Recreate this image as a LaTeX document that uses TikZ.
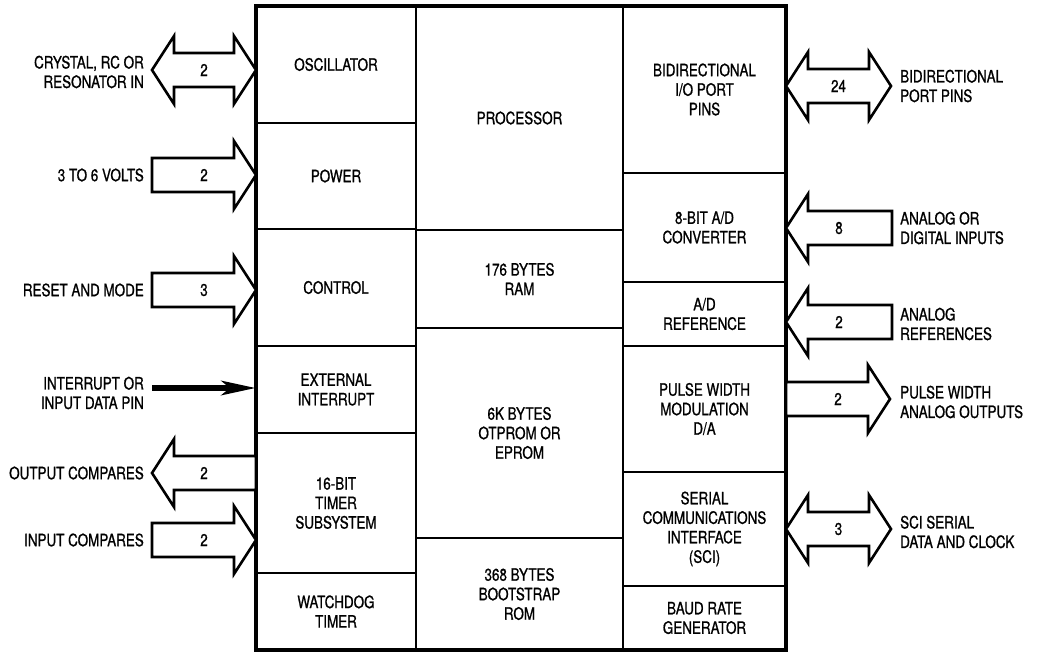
\documentclass[tikz,border=0pt]{standalone}
\usepackage{fontspec}
\setmainfont{TeX Gyre Heros}[FakeStretch=0.79, FakeBold=0.9]
\usetikzlibrary{calc,arrows.meta}

\tikzset{
    txt/.style={font=\fontsize{17}{19.5}\selectfont},
    blk/.style={txt, draw, fill=white, line width=2.6pt, inner sep=0pt, outer sep=0pt, align=center},
    lbl/.style={txt, inner sep=0pt},
    num/.style={txt, inner sep=1pt},
    blockarrow/.style={draw, fill=white, line width=2.6pt, line join=miter},
}

\newcommand{\shafthw}{17pt}
\newcommand{\headhw}{34pt}
\newcommand{\headlen}{22pt}

% block from corner (#2,#3) to corner (#4,#5)
\newcommand{\blk}[6]{%
    \node[blk, minimum width={#4-#2}, minimum height={#5-#3}] (#1) at ({(#2+#4)/2},{(#3+#5)/2}) {#6};}

% one-headed hollow arrow from #2 to #3
\newcommand{\onearrow}[4]{%
    \draw[blockarrow] let \p1=(#2), \p2=(#3), \n1={sign(\x2-\x1)} in
        (\x1,{\y1+\shafthw}) -- ({\x2-\n1*\headlen},{\y1+\shafthw}) -- ({\x2-\n1*\headlen},{\y1+\headhw})
        -- (\x2,\y1) -- ({\x2-\n1*\headlen},{\y1-\headhw}) -- ({\x2-\n1*\headlen},{\y1-\shafthw})
        -- (\x1,{\y1-\shafthw}) -- cycle;
    \node[num] (#1) at ($(#2)!0.5!(#3)$) {#4};}

% two-headed hollow arrow between #2 and #3
\newcommand{\twoarrow}[4]{%
    \draw[blockarrow] let \p1=(#2), \p2=(#3), \n1={sign(\x2-\x1)} in
        (\x1,\y1) -- ({\x1+\n1*\headlen},{\y1+\headhw}) -- ({\x1+\n1*\headlen},{\y1+\shafthw})
        -- ({\x2-\n1*\headlen},{\y1+\shafthw}) -- ({\x2-\n1*\headlen},{\y1+\headhw})
        -- (\x2,\y1) -- ({\x2-\n1*\headlen},{\y1-\headhw}) -- ({\x2-\n1*\headlen},{\y1-\shafthw})
        -- ({\x1+\n1*\headlen},{\y1-\shafthw}) -- ({\x1+\n1*\headlen},{\y1-\headhw}) -- cycle;
    \node[num] (#1) at ($(#2)!0.5!(#3)$) {#4};}

\begin{document}
\begin{tikzpicture}[x=1pt, y=-1pt]
    \useasboundingbox[fill=white] (0,0) rectangle (1038,653);

    % Free ends
    \coordinate (xtal)   at (152,70);
    \coordinate (volts)  at (152,175);
    \coordinate (reset)  at (152,290);
    \coordinate (intin)  at (152,388);
    \coordinate (outc)   at (152,473);
    \coordinate (inc)    at (152,540);
    \coordinate (bpins)  at (891,86);
    \coordinate (ain)    at (892,228);
    \coordinate (aref)   at (892,322);
    \coordinate (pwmout) at (890,399);
    \coordinate (sciio)  at (891,529);

    % Blocks
    \blk{osc}{256}{6}{416}{123}{OSCILLATOR}
    \blk{pwr}{256}{123}{416}{229}{POWER}
    \blk{ctrl}{256}{229}{416}{346}{CONTROL}
    \blk{extint}{256}{346}{416}{433}{EXTERNAL\\INTERRUPT}
    \blk{timer}{256}{433}{416}{573}{16-BIT\\TIMER\\SUBSYSTEM}
    \blk{wdog}{256}{573}{416}{650}{WATCHDOG\\TIMER}

    \blk{proc}{416}{6}{623}{230}{PROCESSOR}
    \blk{ram}{416}{230}{623}{328}{176 BYTES\\RAM}
    \blk{eprom}{416}{328}{623}{538}{6K BYTES\\OTPROM OR\\EPROM}
    \blk{boot}{416}{538}{623}{650}{368 BYTES\\BOOTSTRAP\\ROM}

    \blk{bidir}{623}{6}{786}{173}{BIDIRECTIONAL\\I/O PORT\\PINS}
    \blk{adc}{623}{173}{786}{282}{8-BIT A/D\\CONVERTER}
    \blk{adref}{623}{282}{786}{346}{A/D\\REFERENCE}
    \blk{pwm}{623}{346}{786}{472}{PULSE WIDTH\\MODULATION\\D/A}
    \blk{sci}{623}{472}{786}{586}{SERIAL\\COMMUNICATIONS\\INTERFACE\\(SCI)}
    \blk{baud}{623}{586}{786}{650}{BAUD RATE\\GENERATOR}

    \draw[line width=3.4pt] (osc.north west) rectangle (baud.south east);

    % Left side
    \twoarrow{xtaln}{xtal}{osc.west |- xtal}{2}
    \onearrow{voltsn}{volts}{pwr.west |- volts}{2}
    \onearrow{resetn}{reset}{ctrl.west |- reset}{3}
    \draw[line width=6pt, -{Stealth[length=34pt, width=14pt, inset=8pt]}] (intin) -- (extint.west |- intin);
    \onearrow{outcn}{timer.west |- outc}{outc}{2}
    \onearrow{incn}{inc}{timer.west |- inc}{2}

    \node[lbl, anchor=east, align=right] (xtallbl) at ([xshift=-8pt,yshift=-2pt]xtal) {CRYSTAL, RC OR\\RESONATOR IN};
    \node[lbl, anchor=east] (voltslbl) at ([xshift=-8pt]volts) {3 TO 6 VOLTS};
    \node[lbl, anchor=east] (resetlbl) at ([xshift=-8pt]reset) {RESET AND MODE};
    \node[lbl, anchor=east, align=right] (intlbl) at ([xshift=-8pt,yshift=-5pt]intin) {INTERRUPT OR\\INPUT DATA PIN};
    \node[lbl, anchor=east] (outclbl) at ([xshift=-8pt]outc) {OUTPUT COMPARES};
    \node[lbl, anchor=east] (inclbl) at ([xshift=-8pt]inc) {INPUT COMPARES};

    % Right side
    \twoarrow{bpinsn}{bidir.east |- bpins}{bpins}{24}
    \onearrow{ainn}{ain}{adc.east |- ain}{8}
    \onearrow{arefn}{aref}{adref.east |- aref}{2}
    \onearrow{pwmn}{pwm.east |- pwmout}{pwmout}{2}
    \twoarrow{scin}{sci.east |- sciio}{sciio}{3}

    \node[lbl, anchor=west, align=left] (bpinslbl) at ([xshift=9pt]bpins) {BIDIRECTIONAL\\PORT PINS};
    \node[lbl, anchor=west, align=left] (ainlbl) at ([xshift=8pt]ain) {ANALOG OR\\DIGITAL INPUTS};
    \node[lbl, anchor=west, align=left] (areflbl) at ([xshift=8pt,yshift=-2pt]aref) {ANALOG\\REFERENCES};
    \node[lbl, anchor=west, align=left] (pwmlbl) at ([xshift=10pt,yshift=-3pt]pwmout) {PULSE WIDTH\\ANALOG OUTPUTS};
    \node[lbl, anchor=west, align=left] (scilbl) at ([xshift=9pt,yshift=-3pt]sciio) {SCI SERIAL\\DATA AND CLOCK};
\end{tikzpicture}
\end{document}
